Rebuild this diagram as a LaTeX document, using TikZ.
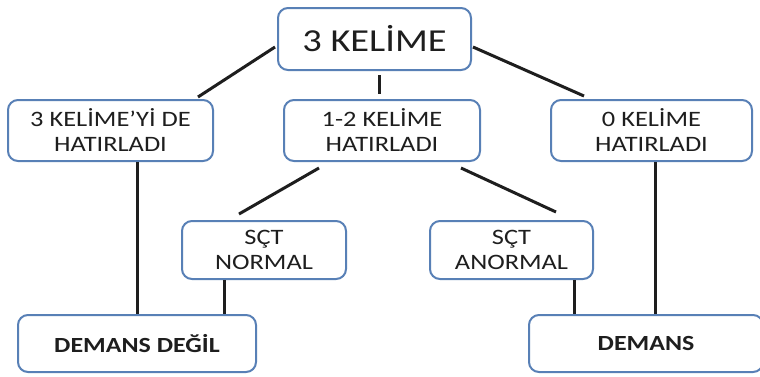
\documentclass[tikz,border=0pt]{standalone}
\usepackage{fontspec}
\setmainfont{Carlito}[FakeStretch=1.2]
\usetikzlibrary{calc}
\definecolor{boxline}{RGB}{88,128,182}
\definecolor{inkgray}{RGB}{30,30,30}

\begin{document}
\begin{tikzpicture}[x=0.5pt,y=-0.5pt,font=\fontsize{11}{12.5}\selectfont,
  box/.style={draw=boxline,line width=1pt,rounded corners=5pt,fill=white,
    text=inkgray,align=center,inner sep=0pt},
  link/.style={line width=1.5pt,inkgray}]
  \useasboundingbox[fill=white] (0,0) rectangle (760,376);
  \node[box,minimum width=96.5pt,minimum height=31pt,
        font=\fontsize{16}{19}\selectfont] (top) at (374.5,39) {3 KELİME};
  \node[box,minimum width=102.5pt,minimum height=30.5pt] (left) at (110.5,130.5)
     {3 KELİME’Yİ DE\\HATIRLADI};
  \node[box,minimum width=98pt,minimum height=30.5pt] (mid) at (382,130.5)
     {1-2 KELİME\\HATIRLADI};
  \node[box,minimum width=100.5pt,minimum height=30.5pt] (right) at (651.5,130.5)
     {0 KELİME\\HATIRLADI};
  \node[box,minimum width=82pt,minimum height=29pt] (norm) at (264,250)
     {SÇT\\NORMAL};
  \node[box,minimum width=81.5pt,minimum height=29pt] (anorm) at (511.5,250)
     {SÇT\\ANORMAL};
  \node[box,minimum width=119pt,minimum height=28.5pt,
        font=\fontsize{10.8}{12}\selectfont\bfseries] (dd) at (137,343.5) {DEMANS DEĞİL};
  \node[box,minimum width=117pt,minimum height=28.5pt,
        font=\fontsize{10.8}{12}\selectfont\bfseries] (dem) at (646,343.5) {DEMANS};
  % upper level
  \draw[link] ($(top.west)+(-2,8)$) -- ($(left.north east)+(-16,-2)$);
  \draw[link] ($(top.south)+(4.5,4)$) -- ($(mid.north)+(-3,-5)$);
  \draw[link] ($(top.east)+(1,8)$) -- ($(right.north west)+(34,-3)$);
  \draw[link] ($(mid.south west)+(36,6)$) -- ($(norm.north west)+(58,-6)$);
  \draw[link] ($(mid.south east)+(-20,6)$) -- ($(anorm.north east)+(-38,-8)$);
  % down to the results
  \coordinate (nd) at ($(norm.south west)+(43,0)$);
  \coordinate (ad) at ($(anorm.south east)+(-20,0)$);
  \coordinate (rd) at ($(right.south)+(4,0)$);
  \draw[link] (dd.north |- left.south) -- (dd.north);
  \draw[link] (nd) -- (nd |- dd.north);
  \draw[link] (ad) -- (ad |- dem.north);
  \draw[link] (rd) -- (rd |- dem.north);
\end{tikzpicture}
\end{document}
